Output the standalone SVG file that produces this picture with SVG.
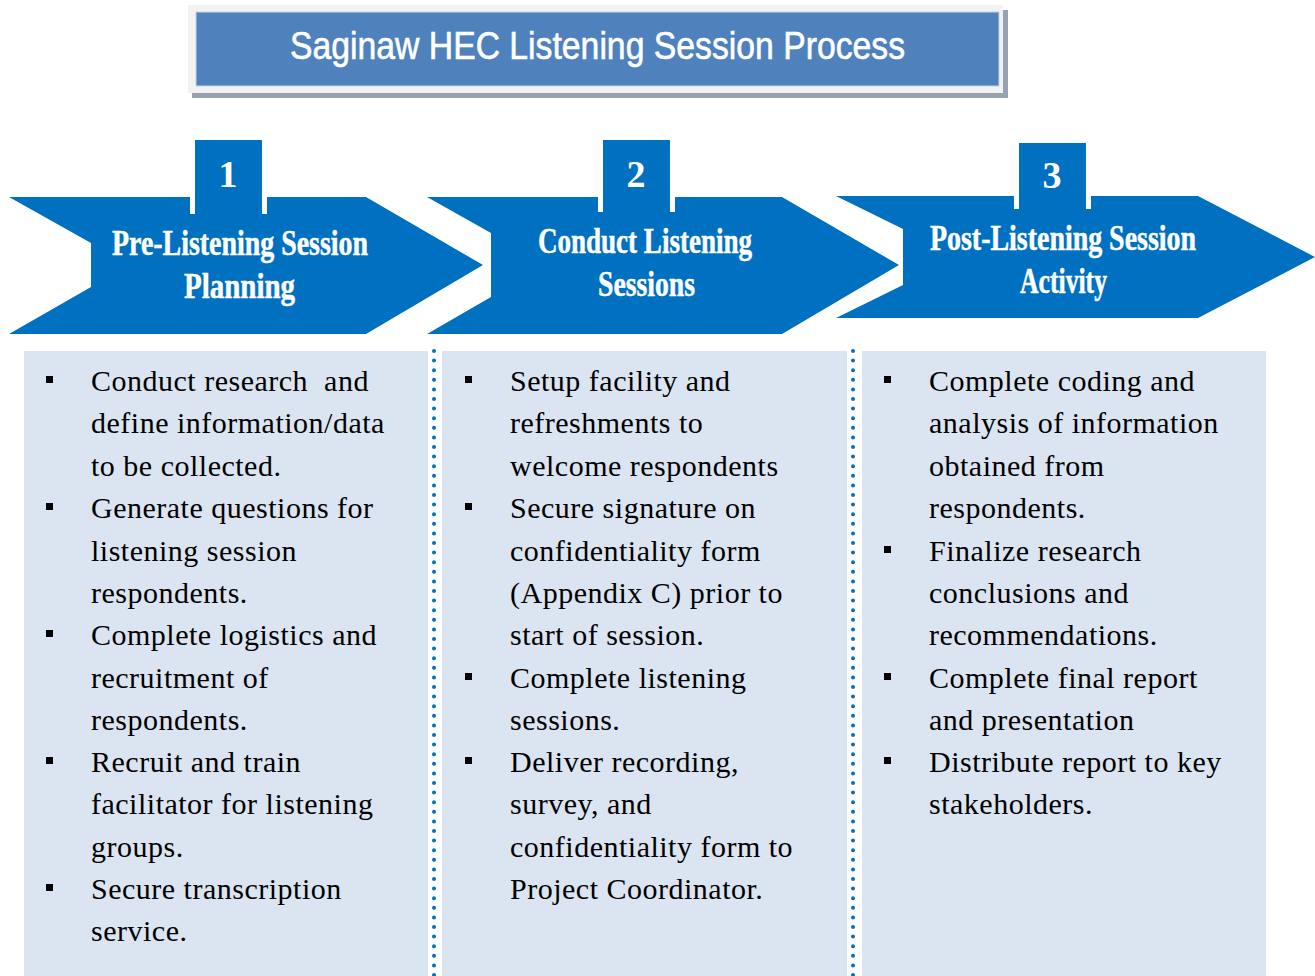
<svg xmlns="http://www.w3.org/2000/svg" width="1315" height="976" viewBox="0 0 1315 976">
  <style>
    .chev { fill: #0070c0; }
    .tab { fill: #0070c0; }
    .tabedge { stroke: #ffffff; stroke-width: 5; }
    .num { font-family: "Liberation Serif", serif; font-weight: bold; font-size: 38px; fill: #ffffff; text-anchor: middle; }
    .head { font-family: "Liberation Serif", serif; font-weight: bold; font-size: 35px; fill: #ffffff; stroke: #ffffff; stroke-width: 0.5; }
    .panel { fill: #dbe5f1; }
    .sep { stroke: #0070c0; stroke-width: 4; stroke-linecap: round; stroke-dasharray: 0 9.6; fill: none; }
    .body { font-family: "Liberation Serif", "Times New Roman", serif; font-size: 30px; letter-spacing: 0.5px; fill: #000000; }
    .bul { fill: #000000; }
  </style>

  <rect width="1315" height="976" fill="#ffffff"/>

  <!-- Title banner -->
  <g id="title">
    <rect x="192" y="10" width="816" height="88" fill="#98a2b3"/>
    <rect x="188" y="5" width="815" height="88" fill="#f2f2f2"/>
    <rect x="196" y="12" width="803" height="74" fill="#4f81bd" stroke="#c5d3e6" stroke-width="1"/>
    <text x="290" y="59" textLength="615" lengthAdjust="spacingAndGlyphs" font-family="Liberation Sans, sans-serif" font-size="38" fill="#ffffff" stroke="#ffffff" stroke-width="0.6">Saginaw HEC Listening Session Process</text>
  </g>

  <!-- Content panels -->
  <g id="panels">
    <rect class="panel" x="24" y="351" width="404" height="625"/>
    <rect class="panel" x="442" y="351" width="405" height="625"/>
    <rect class="panel" x="862" y="351" width="404" height="625"/>
  </g>

  <!-- Dotted separators between columns -->
  <g id="connectors">
    <line class="sep" x1="434" y1="351" x2="434" y2="976"/>
    <line class="sep" x1="853" y1="351" x2="853" y2="976"/>
  </g>

  <!-- Step 1 -->
  <g id="step1">
    <polygon class="chev" points="9,197 366,197 483,265 366,334 9,334 91,287 91,243"/>
    <rect class="tab" x="195" y="140" width="67" height="74"/>
    <line class="tabedge" x1="192.5" y1="197" x2="192.5" y2="214"/>
    <line class="tabedge" x1="264.5" y1="197" x2="264.5" y2="214"/>
    <text class="num" x="228" y="187">1</text>
    <text class="head" x="112" y="255" textLength="256" lengthAdjust="spacingAndGlyphs">Pre-Listening Session</text>
    <text class="head" x="184" y="298" textLength="111" lengthAdjust="spacingAndGlyphs">Planning</text>
  </g>

  <!-- Step 2 -->
  <g id="step2">
    <polygon class="chev" points="427,197 782,197 899,265 782,334 427,334 491,297 491,233"/>
    <rect class="tab" x="603" y="140" width="67" height="72"/>
    <line class="tabedge" x1="600.5" y1="197" x2="600.5" y2="212"/>
    <line class="tabedge" x1="672.5" y1="197" x2="672.5" y2="212"/>
    <text class="num" x="636" y="187">2</text>
    <text class="head" x="538" y="253" textLength="214" lengthAdjust="spacingAndGlyphs">Conduct Listening</text>
    <text class="head" x="598" y="296" textLength="97" lengthAdjust="spacingAndGlyphs">Sessions</text>
  </g>

  <!-- Step 3 -->
  <g id="step3">
    <polygon class="chev" points="836,196 1198,196 1315,257 1198,318 836,318 903,285 903,229"/>
    <rect class="tab" x="1019" y="143" width="67" height="66"/>
    <line class="tabedge" x1="1016.5" y1="196" x2="1016.5" y2="209"/>
    <line class="tabedge" x1="1088.5" y1="196" x2="1088.5" y2="209"/>
    <text class="num" x="1052" y="188">3</text>
    <text class="head" x="930" y="250" textLength="266" lengthAdjust="spacingAndGlyphs">Post-Listening Session</text>
    <text class="head" x="1020" y="293" textLength="87" lengthAdjust="spacingAndGlyphs">Activity</text>
  </g>

  <!-- Column 1 list -->
  <g id="list1">
    <rect class="bul" x="46" y="376" width="7" height="7"/>
    <rect class="bul" x="46" y="503" width="7" height="7"/>
    <rect class="bul" x="46" y="630" width="7" height="7"/>
    <rect class="bul" x="46" y="757" width="7" height="7"/>
    <rect class="bul" x="46" y="884" width="7" height="7"/>
    <text class="body" x="91" y="391" xml:space="preserve">Conduct research  and</text>
    <text class="body" x="91" y="433">define information/data</text>
    <text class="body" x="91" y="476">to be collected.</text>
    <text class="body" x="91" y="518">Generate questions for</text>
    <text class="body" x="91" y="561">listening session</text>
    <text class="body" x="91" y="603">respondents.</text>
    <text class="body" x="91" y="645">Complete logistics and</text>
    <text class="body" x="91" y="688">recruitment of</text>
    <text class="body" x="91" y="730">respondents.</text>
    <text class="body" x="91" y="772">Recruit and train</text>
    <text class="body" x="91" y="814">facilitator for listening</text>
    <text class="body" x="91" y="857">groups.</text>
    <text class="body" x="91" y="899">Secure transcription</text>
    <text class="body" x="91" y="941">service.</text>
  </g>

  <!-- Column 2 list -->
  <g id="list2">
    <rect class="bul" x="465" y="376" width="7" height="7"/>
    <rect class="bul" x="465" y="503" width="7" height="7"/>
    <rect class="bul" x="465" y="673" width="7" height="7"/>
    <rect class="bul" x="465" y="757" width="7" height="7"/>
    <text class="body" x="510" y="391">Setup facility and</text>
    <text class="body" x="510" y="433">refreshments to</text>
    <text class="body" x="510" y="476">welcome respondents</text>
    <text class="body" x="510" y="518">Secure signature on</text>
    <text class="body" x="510" y="561">confidentiality form</text>
    <text class="body" x="510" y="603">(Appendix C) prior to</text>
    <text class="body" x="510" y="645">start of session.</text>
    <text class="body" x="510" y="688">Complete listening</text>
    <text class="body" x="510" y="730">sessions.</text>
    <text class="body" x="510" y="772">Deliver recording,</text>
    <text class="body" x="510" y="814">survey, and</text>
    <text class="body" x="510" y="857">confidentiality form to</text>
    <text class="body" x="510" y="899">Project Coordinator.</text>
  </g>

  <!-- Column 3 list -->
  <g id="list3">
    <rect class="bul" x="884" y="376" width="7" height="7"/>
    <rect class="bul" x="884" y="546" width="7" height="7"/>
    <rect class="bul" x="884" y="673" width="7" height="7"/>
    <rect class="bul" x="884" y="757" width="7" height="7"/>
    <text class="body" x="929" y="391">Complete coding and</text>
    <text class="body" x="929" y="433">analysis of information</text>
    <text class="body" x="929" y="476">obtained from</text>
    <text class="body" x="929" y="518">respondents.</text>
    <text class="body" x="929" y="561">Finalize research</text>
    <text class="body" x="929" y="603">conclusions and</text>
    <text class="body" x="929" y="645">recommendations.</text>
    <text class="body" x="929" y="688">Complete final report</text>
    <text class="body" x="929" y="730">and presentation</text>
    <text class="body" x="929" y="772">Distribute report to key</text>
    <text class="body" x="929" y="814">stakeholders.</text>
  </g>
</svg>
